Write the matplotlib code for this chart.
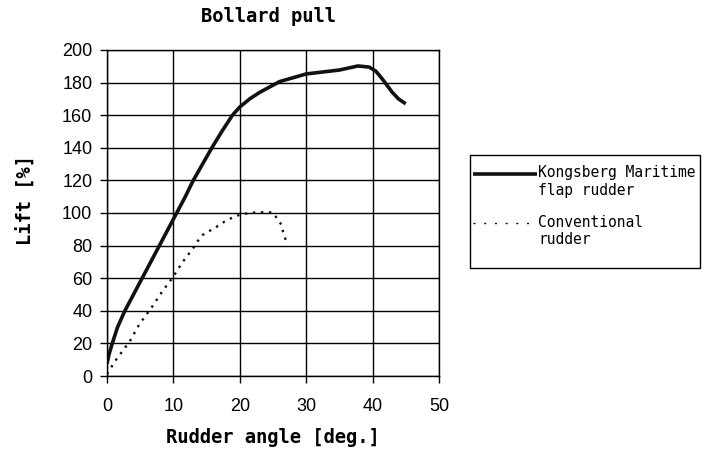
import matplotlib.pyplot as plt
import matplotlib.patches as mpatches
import numpy as np

# Kongsberg Maritime flap rudder
angle_flap = [0, 0.3, 0.8, 1.6, 2.7, 4.0, 5.3, 6.6, 7.9, 9.2, 10.5, 11.8, 13.0, 14.4, 15.8, 17.3, 18.9, 20.0,
              21.5, 23.0, 26.0, 30.0, 35.0, 37.8, 39.5, 40.5, 41.4, 42.9, 43.9, 45.0]
lift_flap = [7.5, 13, 20, 30, 40, 50, 60, 70, 80, 90, 100, 110, 120, 130, 140, 150, 160, 165,
             170, 174, 180.6, 185.3, 187.7, 190.2, 189.5, 187, 182.6, 174.4, 170, 167]

# Conventional rudder
angle_conv = [0, 0.7, 1.5, 3.4, 4.9, 6.7, 8.4, 10.0, 10.6, 11.9, 12.9, 13.6, 14.4, 15.5, 16.7, 17.7, 19.0,
              20.2, 22.0, 24.1, 25.0, 25.8, 26.3, 26.6, 27.1]
lift_conv = [1.2, 5.7, 10.8, 21, 31.9, 41.9, 52.3, 60.9, 65, 72.8, 77.7, 82.4, 86.5, 89.1, 92, 94.7, 97.4,
             99.2, 100.2, 100.6, 100.2, 95.7, 92.6, 86.9, 81.8]

fig = plt.figure(figsize=(7.13, 4.54), dpi=100)
ax = fig.add_axes([0.150, 0.1718, 0.4656, 0.7181])

ax.plot(angle_flap, lift_flap, color='#111111', lw=2.6, solid_capstyle='butt',
        label='Kongsberg Maritime\nflap rudder')
ax.plot(angle_conv, lift_conv, color='#111111', lw=1.7, linestyle=(0, (1, 2.4)),
        label='Conventional\nrudder')

ax.set_xlim(0, 50)
ax.set_ylim(0, 200)
ax.set_xticks(np.arange(0, 51, 10))
ax.set_yticks(np.arange(0, 201, 20))
ax.grid(True, color='black', lw=1.0)
ax.set_axisbelow(True)
for s in ax.spines.values():
    s.set_color('black')
    s.set_linewidth(1.0)
ax.tick_params(direction='out', length=5, width=1, colors='black', labelsize=13)
ax.tick_params(axis='x', pad=10.5)
ax.tick_params(axis='y', pad=5.5)
for lab in ax.get_xticklabels() + ax.get_yticklabels():
    lab.set_family('Liberation Sans')

mono_bold = dict(family='DejaVu Sans Mono', weight='bold', size=13.5)
ax.set_title('Bollard pull', pad=20, x=0.488, **mono_bold)
ax.set_xlabel('Rudder angle [deg.]', labelpad=10, **mono_bold)
ax.set_ylabel('Lift [%]', **mono_bold)
ax.yaxis.set_label_coords(-0.218, 0.54)

# legend frame drawn separately, entries placed inside it
fig.patches.append(mpatches.Rectangle((0.6592, 0.4097), 0.3226, 0.2489, transform=fig.transFigure,
                                      fill=False, edgecolor='black', lw=1.0, zorder=-1))
leg = ax.legend(loc='upper left', bbox_to_anchor=(0.6634, 0.6355), bbox_transform=fig.transFigure,
                prop=dict(family='DejaVu Sans Mono', size=10.5), frameon=False,
                handlelength=4.4, handletextpad=0.05, labelspacing=1.16, borderpad=0, borderaxespad=0)
for h in leg.legend_handles:
    h.set_ydata(np.asarray(h.get_ydata()) + 6.5)
leg.legend_handles[1].set_linewidth(1.0)
leg.legend_handles[1].set_linestyle((0, (1.5, 6.2)))

fig.savefig('out.png', dpi=100)
